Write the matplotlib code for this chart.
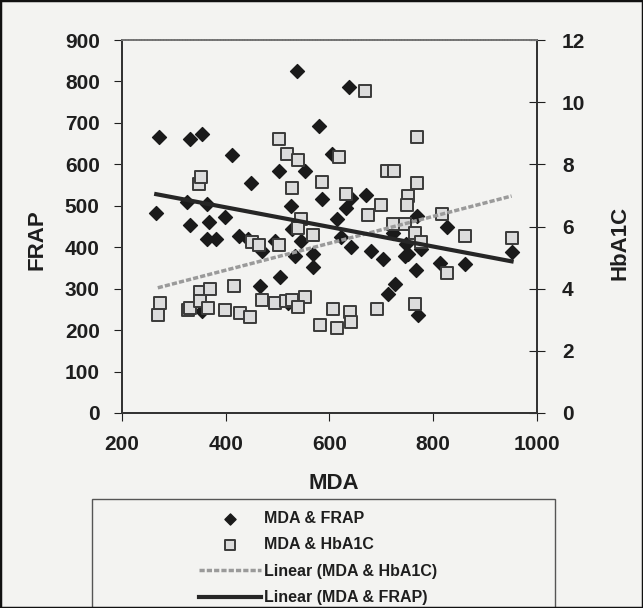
import numpy as np
import matplotlib.pyplot as plt
from matplotlib.patches import Rectangle

plt.rcParams['font.family'] = ['Liberation Sans', 'DejaVu Sans']
plt.rcParams['font.weight'] = 'bold'

# MDA & FRAP points
mda_frap = [266, 272, 325, 331, 331, 354, 363, 368, 363, 381, 355, 398, 413, 426,
            443, 449, 466, 469, 495, 502, 504, 520, 526, 527, 533, 538, 546, 553,
            569, 569, 579, 585, 604, 614, 623, 631, 638, 641, 641, 671, 680, 703,
            713, 723, 726, 748, 745, 752, 766, 768, 771, 777, 813, 826, 861, 951]
frap = [482, 665, 509, 660, 454, 673, 505, 460, 420, 420, 246, 472, 622, 428,
        420, 554, 307, 392, 416, 585, 327, 266, 499, 444, 380, 824, 416, 583,
        384, 352, 692, 517, 624, 467, 424, 494, 787, 518, 401, 525, 391, 371,
        286, 435, 312, 408, 379, 383, 346, 476, 237, 396, 362, 448, 359, 388]

# MDA & HbA1C points
mda_hba = [269, 273, 328, 331, 348, 353, 350, 370, 350, 366, 398, 416, 427, 447,
           450, 465, 469, 495, 503, 517, 502, 519, 539, 527, 546, 539, 527, 553,
           540, 569, 585, 582, 607, 614, 619, 632, 639, 642, 669, 675, 692, 700,
           710, 725, 723, 745, 752, 749, 765, 777, 768, 768, 765, 816, 827, 861, 951]
hba1c = [3.15, 3.55, 3.3, 3.38, 7.38, 7.6, 3.9, 4.0, 3.6, 3.38, 3.3, 4.1, 3.22, 3.1,
         5.5, 5.42, 3.65, 3.53, 5.42, 3.6, 8.83, 8.32, 8.13, 7.23, 6.23, 5.94, 3.65, 3.73,
         3.4, 5.72, 7.44, 2.84, 3.33, 2.74, 8.25, 7.05, 3.25, 2.93, 10.35, 6.37, 3.36, 6.68,
         7.78, 7.78, 6.08, 6.08, 6.98, 6.68, 5.78, 5.51, 8.88, 7.4, 3.5, 6.4, 4.5, 5.7, 5.63]

x_ticks = [200, 400, 600, 800, 1000]
frap_ticks = list(range(0, 901, 100))
hba_ticks = [0, 2, 4, 6, 8, 10, 12]

bg = '#f3f3f1'
ink = '#1e1e1e'

fig = plt.figure(figsize=(6.43, 6.08), dpi=100, facecolor=bg)
ax = fig.add_axes([122/643, 1 - 413/608, 415/643, 373/608], facecolor=bg)
ax2 = ax.twinx()

# scatter
ax.scatter(mda_frap, frap, marker='D', s=50, color='#1a1a1a', zorder=3,
           label='MDA & FRAP')
ax2.scatter(mda_hba, hba1c, marker='s', s=75, facecolor='#dcdcdc',
            edgecolor='#3a3a3a', linewidths=1.4, zorder=3, label='MDA & HbA1C')

# linear trend lines
xf = np.array([min(mda_frap), max(mda_frap)])
cf = np.polyfit(mda_frap, frap, 1)
xh = np.array([min(mda_hba), max(mda_hba)])
ch = np.polyfit(mda_hba, hba1c, 1)
lh, = ax2.plot(xh, np.polyval(ch, xh), color='#9a9a9a', lw=2.5,
               ls=(0, (1.5, 0.6)), zorder=4, label='Linear (MDA & HbA1C)')
lf, = ax2.plot(xf, np.polyval(cf, xf) * 12 / 900, color='#262626', lw=3,
               zorder=5, label='Linear (MDA & FRAP)')

ax.set_xlim(200, 1000)
ax.set_ylim(0, 900)
ax2.set_ylim(0, 12)
ax.set_xticks(x_ticks)
ax.set_yticks(frap_ticks)
ax2.set_yticks(hba_ticks)

ax.tick_params(axis='x', direction='out', length=6, pad=10, labelsize=15,
               colors=ink)
ax.tick_params(axis='y', direction='out', length=6, pad=10, labelsize=15,
               colors=ink)
ax2.tick_params(axis='y', direction='inout', length=12, pad=12, labelsize=15,
                colors=ink)
for a in (ax, ax2):
    for s in a.spines.values():
        s.set_color('#333333')
        s.set_linewidth(1.3)
ax2.spines['top'].set_color('#777777')
ax2.spines['top'].set_linestyle((0, (1, 0.5)))

ax.set_xlabel('MDA', fontsize=16, fontweight='bold', color=ink)
ax.xaxis.set_label_coords(0.51, -0.19)
ax.xaxis.label.set_va('center')
ax.set_ylabel('FRAP', fontsize=16, fontweight='bold', color=ink,
              ha='center', va='center')
ax.yaxis.set_label_coords(-0.205, 0.464)
ax2.set_ylabel('HbA1C', fontsize=16, fontweight='bold', color=ink,
               ha='center', va='center', rotation=90)
ax2.yaxis.set_label_coords(1.2, 0.456)

# legend box (runs off the bottom of the picture)
fig.patches.append(Rectangle((92/643, -0.05), (555 - 92)/643, 1 - 499/608 + 0.05,
                             transform=fig.transFigure, facecolor=bg,
                             edgecolor='#555555', lw=1.0, zorder=0))
h1, l1 = ax.get_legend_handles_labels()
h2, l2 = ax2.get_legend_handles_labels()
fig.legend(h1 + h2, l1 + l2, loc='upper left',
           bbox_to_anchor=(191/643, 1 - 503/608), frameon=False,
           prop={'size': 11.5, 'weight': 'bold'}, handlelength=3.9,
           handletextpad=0.15, borderpad=0, labelspacing=0.72,
           markerscale=0.8, labelcolor=ink)

# outer frame of the picture
fig.patches.append(Rectangle((0, 0), 1, 1, transform=fig.transFigure,
                             fill=False, edgecolor='#111111', lw=2.5))

fig.savefig('out.png', dpi=100, facecolor=bg)
